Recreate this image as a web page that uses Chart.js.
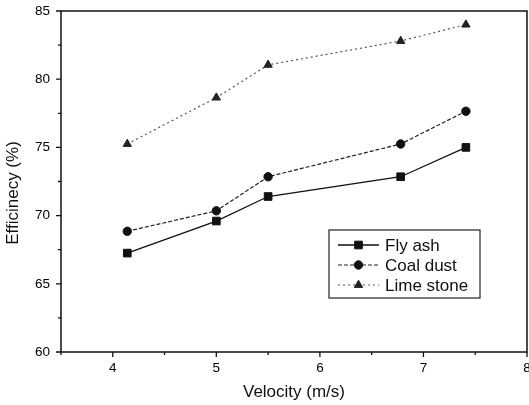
<!DOCTYPE html>
<html>
<head>
<meta charset="utf-8">
<script src="https://cdn.jsdelivr.net/npm/chart.js@4.4.1/dist/chart.umd.min.js"></script>
<style>
  html, body { margin: 0; padding: 0; background: #fff; }
  #wrap { width: 529px; height: 405px; }
</style>
</head>
<body>
<div id="wrap"><canvas id="effChart" width="529" height="405"></canvas></div>
<script>
// data
const velocity = [4.14, 5.0, 5.5, 6.78, 7.41];
const flyAsh = [67.25, 69.6, 71.4, 72.85, 75.0];
const coalDust = [68.85, 70.35, 72.85, 75.25, 77.65];
const limeStone = [75.25, 78.65, 81.05, 82.8, 84.0];
const xTicks = [4, 5, 6, 7, 8];
const yTicks = [60, 65, 70, 75, 80, 85];

const FONT = "'Liberation Sans', Arial, sans-serif";

function toPoints(ys) {
  return velocity.map((x, i) => ({ x: x, y: ys[i] }));
}

// box around the plot, tick marks, y title and the legend inside the plot
const framePlugin = {
  id: "frame",
  afterDraw(chart) {
    const ctx = chart.ctx;
    const a = chart.chartArea;
    const xs = chart.scales.x;
    const ys = chart.scales.y;
    ctx.save();
    ctx.strokeStyle = "#111";
    ctx.lineWidth = 1.5;
    ctx.strokeRect(a.left, a.top, a.right - a.left, a.bottom - a.top);

    ctx.lineWidth = 1.3;
    ctx.beginPath();
    for (let v = 3.5; v <= 8.001; v += 0.5) {
      const px = xs.getPixelForValue(v);
      const len = xTicks.includes(Math.round(v * 10) / 10) ? 5 : 3;
      ctx.moveTo(px, a.bottom);
      ctx.lineTo(px, a.bottom + len);
    }
    for (let v = 60; v <= 85.001; v += 2.5) {
      const py = ys.getPixelForValue(v);
      const len = yTicks.includes(v) ? 5 : 3;
      ctx.moveTo(a.left, py);
      ctx.lineTo(a.left - len, py);
    }
    ctx.stroke();

    // y axis title (sits a little below the axis centre in the original)
    ctx.save();
    ctx.translate(13, 193);
    ctx.rotate(-Math.PI / 2);
    ctx.fillStyle = "#111";
    ctx.font = "17px " + FONT;
    ctx.textAlign = "center";
    ctx.textBaseline = "middle";
    ctx.fillText("Efficinecy (%)", 0, 0);
    ctx.restore();

    // legend
    const box = { x: 329, y: 230, w: 151, h: 68 };
    ctx.lineWidth = 1.2;
    ctx.strokeStyle = "#222";
    ctx.fillStyle = "#fff";
    ctx.fillRect(box.x, box.y, box.w, box.h);
    ctx.strokeRect(box.x, box.y, box.w, box.h);
    const rows = [245, 265, 285];
    chart.data.datasets.forEach((ds, i) => {
      const y = rows[i];
      ctx.save();
      ctx.strokeStyle = ds.borderColor;
      ctx.lineWidth = ds.borderWidth;
      ctx.setLineDash(ds.borderDash || []);
      ctx.beginPath();
      ctx.moveTo(338, y);
      ctx.lineTo(379, y);
      ctx.stroke();
      ctx.restore();
      ctx.fillStyle = ds.pointBackgroundColor;
      ctx.strokeStyle = ds.pointBorderColor;
      ctx.lineWidth = 1;
      Chart.helpers.drawPoint(ctx, {
        pointStyle: ds.pointStyle,
        radius: ds.pointRadius,
        borderWidth: 1
      }, 358.5, y);
      ctx.fillStyle = "#111";
      ctx.font = "17px " + FONT;
      ctx.textBaseline = "middle";
      ctx.textAlign = "left";
      ctx.fillText(ds.label, 385, y + 1);
    });
    ctx.restore();
  }
};

const ctx = document.getElementById("effChart").getContext("2d");
new Chart(ctx, {
  type: "line",
  data: {
    datasets: [
      {
        label: "Fly ash",
        data: toPoints(flyAsh),
        borderColor: "#111",
        backgroundColor: "#111",
        borderWidth: 1.3,
        pointStyle: "rect",
        pointRadius: 5.4,
        pointBackgroundColor: "#111",
        pointBorderColor: "#111",
        pointBorderWidth: 1
      },
      {
        label: "Coal dust",
        data: toPoints(coalDust),
        borderColor: "#222",
        backgroundColor: "#111",
        borderWidth: 1.2,
        borderDash: [4, 2],
        pointStyle: "circle",
        pointRadius: 4.2,
        pointBackgroundColor: "#111",
        pointBorderColor: "#111",
        pointBorderWidth: 1
      },
      {
        label: "Lime stone",
        data: toPoints(limeStone),
        borderColor: "#555",
        backgroundColor: "#222",
        borderWidth: 1.2,
        borderDash: [2, 3],
        pointStyle: "triangle",
        pointRadius: 4.8,
        pointBackgroundColor: "#222",
        pointBorderColor: "#222",
        pointBorderWidth: 1
      }
    ]
  },
  options: {
    responsive: false,
    animation: false,
    layout: { autoPadding: false, padding: { top: 11, right: 2, left: 0, bottom: 0 } },
    plugins: {
      legend: { display: false },
      tooltip: { enabled: false }
    },
    elements: { line: { tension: 0 } },
    scales: {
      x: {
        type: "linear",
        min: 3.5,
        max: 8,
        grid: { display: false, drawTicks: false },
        border: { display: false },
        ticks: {
          stepSize: 1,
          autoSkip: false,
          maxRotation: 0,
          padding: 8,
          color: "#000",
          font: { family: FONT, size: 13.5 },
          callback: (v) => (xTicks.includes(v) ? String(v) : "")
        },
        title: {
          display: true,
          text: "Velocity (m/s)",
          color: "#111",
          font: { family: FONT, size: 17 },
          padding: { top: 2, bottom: 2 }
        },
        afterFit(scale) {
          scale.height = 53;
          scale.paddingLeft = 0;
          scale.paddingRight = 0;
        }
      },
      y: {
        min: 60,
        max: 85,
        grid: { display: false, drawTicks: false },
        border: { display: false },
        ticks: {
          stepSize: 5,
          padding: 11,
          color: "#000",
          font: { family: FONT, size: 13.5 },
          callback: (v) => (yTicks.includes(v) ? String(v) : "")
        },
        title: { display: false },
        afterFit(scale) {
          scale.width = 61;
          scale.paddingTop = 0;
          scale.paddingBottom = 0;
        }
      }
    }
  },
  plugins: [framePlugin]
});
</script>
</body>
</html>
